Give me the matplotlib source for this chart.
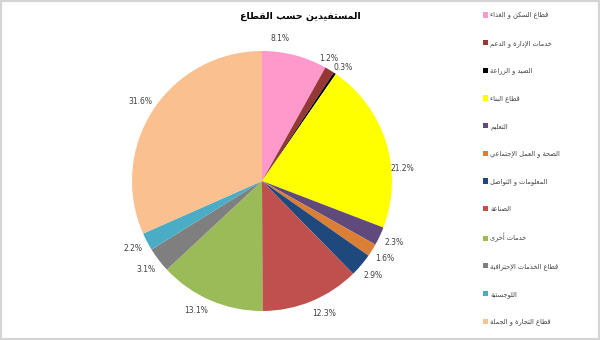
import matplotlib
matplotlib.use('Agg')
import matplotlib.pyplot as plt
from matplotlib.patches import Rectangle

plt.rcParams['font.family'] = ['DejaVu Sans']

# data
title = 'المستفيدين حسب القطاع'
sectors = ['قطاع السكن و الغذاء', 'خدمات الإدارة و الدعم', 'الصيد و الزراعة', 'قطاع البناء',
           'التعليم', 'الصحة و العمل الإجتماعي', 'المعلومات و التواصل', 'الصناعة',
           'خدمات أخرى', 'قطاع الخدمات الإحترافية', 'اللوجستية', 'قطاع التجارة و الجملة']
shares = [8.1, 1.2, 0.3, 21.2, 2.3, 1.6, 2.9, 12.3, 13.1, 3.1, 2.2, 31.6]
colors = ['#FF99CC', '#953735', '#000000', '#FFFF00', '#604A7B', '#DA7F35',
          '#1F497D', '#C0504D', '#9BBB59', '#7F7F7F', '#4BACC6', '#FAC090']

# matplotlib has no arabic shaping, so pick presentation forms by hand
# (isolated, final, initial, medial) start codepoint + number of forms
_tab = {'ء': (0xFE80, 1), 'آ': (0xFE81, 2), 'أ': (0xFE83, 2), 'ؤ': (0xFE85, 2), 'إ': (0xFE87, 2),
        'ئ': (0xFE89, 4), 'ا': (0xFE8D, 2), 'ب': (0xFE8F, 4), 'ة': (0xFE93, 2), 'ت': (0xFE95, 4),
        'ث': (0xFE99, 4), 'ج': (0xFE9D, 4), 'ح': (0xFEA1, 4), 'خ': (0xFEA5, 4), 'د': (0xFEA9, 2),
        'ذ': (0xFEAB, 2), 'ر': (0xFEAD, 2), 'ز': (0xFEAF, 2), 'س': (0xFEB1, 4), 'ش': (0xFEB5, 4),
        'ص': (0xFEB9, 4), 'ض': (0xFEBD, 4), 'ط': (0xFEC1, 4), 'ظ': (0xFEC5, 4), 'ع': (0xFEC9, 4),
        'غ': (0xFECD, 4), 'ف': (0xFED1, 4), 'ق': (0xFED5, 4), 'ك': (0xFED9, 4), 'ل': (0xFEDD, 4),
        'م': (0xFEE1, 4), 'ن': (0xFEE5, 4), 'ه': (0xFEE9, 4), 'و': (0xFEED, 2), 'ى': (0xFEEF, 2),
        'ي': (0xFEF1, 4)}
_lamalef = {'آ': 0xFEF5, 'أ': 0xFEF7, 'إ': 0xFEF9, 'ا': 0xFEFB}


def shape(text):
    out = []
    i = 0
    while i < len(text):
        c = text[i]
        if c not in _tab:
            out.append(c)
            i += 1
            continue
        prev = text[i - 1] if i > 0 else ''
        prev_j = prev in _tab and _tab[prev][1] == 4 and _tab[c][1] >= 2
        nxt = text[i + 1] if i + 1 < len(text) else ''
        if c == 'ل' and nxt in _lamalef:
            out.append(chr(_lamalef[nxt] + (1 if prev_j else 0)))
            i += 2
            continue
        next_j = _tab[c][1] == 4 and nxt in _tab and _tab[nxt][1] >= 2
        base = _tab[c][0]
        if prev_j and next_j:
            out.append(chr(base + 3))
        elif prev_j:
            out.append(chr(base + 1))
        elif next_j:
            out.append(chr(base + 2))
        else:
            out.append(chr(base))
        i += 1
    return ''.join(reversed(out))


fig = plt.figure(figsize=(6, 3.4), dpi=100)

# pie centre ~(262,181) px, radius 130 px
cx, cy, R, half = 262, 340 - 181, 130, 170
ax = fig.add_axes([(cx - half) / 600, (cy - half) / 340, 2 * half / 600, 2 * half / 340])
wedges, _, autotexts = ax.pie(shares, colors=colors, startangle=90, counterclock=False,
                              autopct='%1.1f%%', pctdistance=1.12, radius=1,
                              wedgeprops=dict(linewidth=0),
                              textprops=dict(fontsize=5.5, color='#404040'))
ax.set_xlim(-half / R, half / R)
ax.set_ylim(-half / R, half / R)
ax.axis('off')

# excel "best fit" label placement, nudges in pixels (right, down)
nudge = {0: (-19, -2), 1: (-9, 2), 2: (0, 7), 3: (1, 31), 7: (7, -2), 8: (-8, -4)}
for k, (dx, dy) in nudge.items():
    x, y = autotexts[k].get_position()
    autotexts[k].set_position((x + dx / R, y - dy / R))

fig.text(300 / 600, 1 - 16 / 340, shape(title), ha='center', va='center',
         fontsize=6.8, fontweight='bold', color='black')

fig.legend(wedges, [shape(s) for s in sectors], loc='upper left',
           bbox_to_anchor=(477 / 600, 1 - 6 / 340), frameon=False, fontsize=4.8,
           handlelength=0.8, handleheight=0.8, handletextpad=0.3, labelspacing=3.13,
           labelcolor='#404040')

fig.patches.append(Rectangle((0, 0), 1, 1, transform=fig.transFigure, fill=False,
                             edgecolor='#D4D4D4', linewidth=3))

fig.savefig('out.png', dpi=100)
